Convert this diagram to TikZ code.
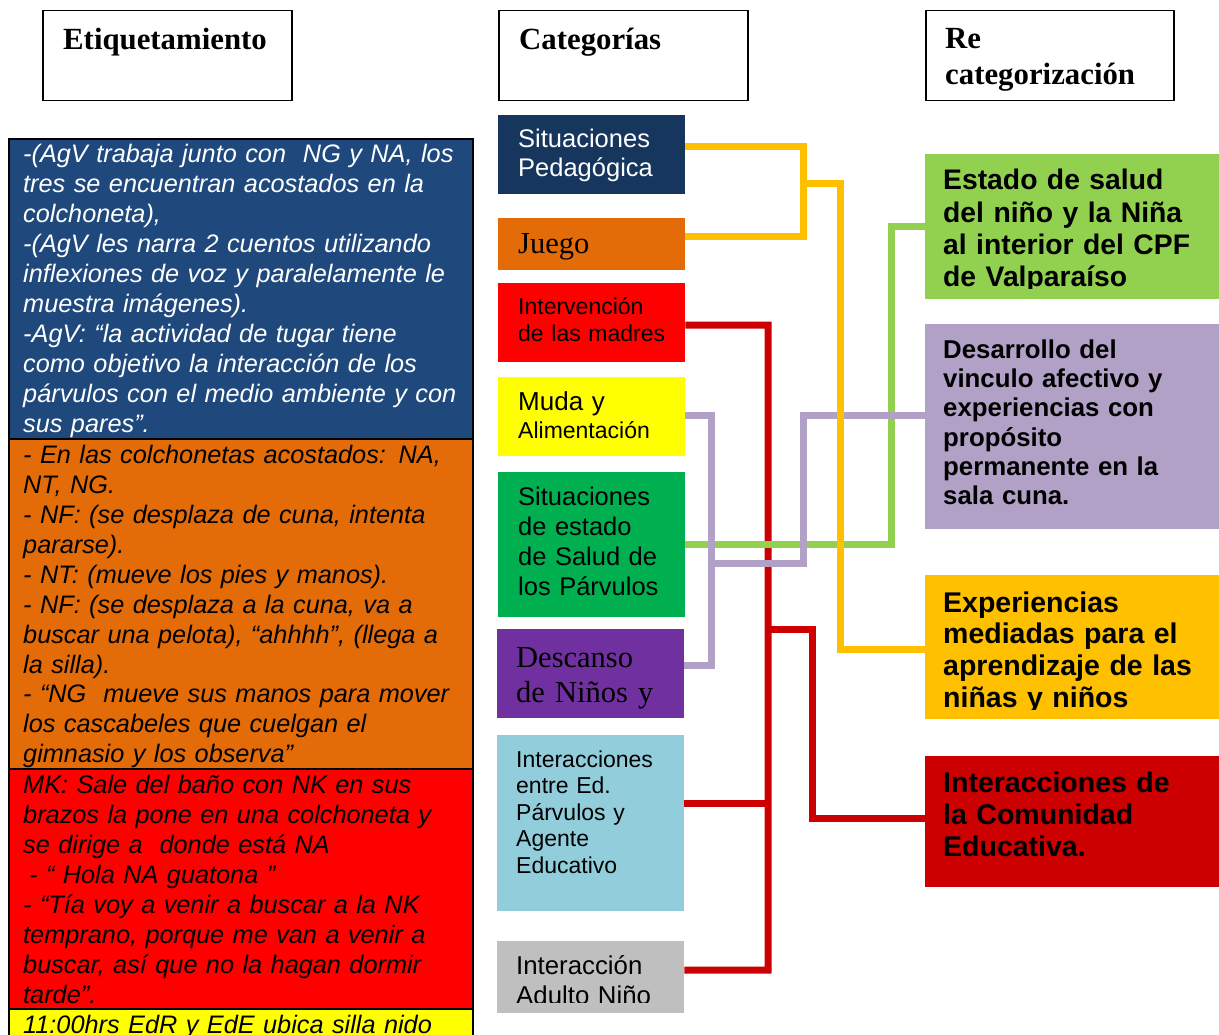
\documentclass[tikz,border=0pt]{standalone}
\usepackage{xcolor}
\usepackage{fontspec}
\setmainfont{Liberation Serif}
\setsansfont{Liberation Sans}
\usepackage{tikz}
\usetikzlibrary{calc}

\definecolor{azulA}{HTML}{1F497D}
\definecolor{azulB}{HTML}{17365D}
\definecolor{naranja}{HTML}{E36C09}
\definecolor{rojo}{HTML}{FF0000}
\definecolor{amarillo}{HTML}{FFFF00}
\definecolor{verdeA}{HTML}{00B050}
\definecolor{morado}{HTML}{7030A0}
\definecolor{celeste}{HTML}{92CDDC}
\definecolor{gris}{HTML}{BFBFBF}
\definecolor{verdeB}{HTML}{92D050}
\definecolor{lila}{HTML}{B2A1C7}
\definecolor{oro}{HTML}{FFC000}
\definecolor{granate}{HTML}{CC0000}

\begin{document}
\begin{tikzpicture}[x=1pt,y=1pt,
	head/.style={draw=black,line width=1.5pt,anchor=north west,minimum width=249pt,minimum height=90pt,inner sep=0pt},
	htxt/.style={anchor=base west,inner sep=0pt,text width=230pt,align=left,font=\rmfamily\bfseries\fontsize{30.8}{36}\selectfont},
	band/.style={draw=black,line width=2pt,anchor=north west,minimum width=464pt,inner sep=0pt},
	ltxt/.style={anchor=base west,inner sep=0pt,text width=460pt,align=left,font=\sffamily\itshape\fontsize{25.3}{30}\selectfont},
	cat/.style={anchor=north west,minimum width=187pt,inner sep=0pt},
	recat/.style={anchor=north west,minimum width=294pt,inner sep=0pt},
	ctxt/.style={anchor=base west,inner sep=0pt,text width=180pt,align=left},
	rtxt/.style={anchor=base west,inner sep=0pt,text width=275pt,align=left},
	conn/.style={line width=\lw}]
		\def\lw{7pt}
		\useasboundingbox (0,0) rectangle (1219,-1035);
		% encabezados
		\node[head] (hEtiq) at (42,-10) {};
		\node[head] (hCat) at (498,-10) {};
		\node[head,minimum width=248pt] (hRecat) at (925,-10) {};
		\node[htxt] (tEtiq) at (63,-50) {Etiquetamiento};
		\node[htxt] (tCat) at (519,-50) {Categorías};
		\node[htxt] (tRecat) at (945,-49) {Re\\categorización};
		% etiquetamiento
		\node[band,fill=azulA,minimum height=300pt] (bandA) at (8,-138) {};
		\node[band,fill=naranja,minimum height=330pt] (bandB) at (8,-438) {};
		\node[band,fill=rojo,minimum height=240pt] (bandC) at (8,-768) {};
		\node[band,fill=amarillo,minimum height=40pt] (bandD) at (8,-1008) {};
		\node[ltxt,text=white] (tA) at (23,-163) {-(AgV trabaja junto con\ \ NG y NA, los\\tres se encuentran acostados en la\\colchoneta),\\-(AgV les narra 2 cuentos utilizando\\inflexiones de voz y paralelamente le\\muestra imágenes).\\-AgV: “la actividad de tugar tiene\\como objetivo la interacción de los\\párvulos con el medio ambiente y con\\sus pares”.};
		\node[ltxt] (tB) at (23,-463) {- En las colchonetas acostados: NA,\\NT, NG.\\- NF: (se desplaza de cuna, intenta\\pararse).\\- NT: (mueve los pies y manos).\\- NF: (se desplaza a la cuna, va a\\buscar una pelota), “ahhhh”, (llega a\\la silla).\\- “NG\ \ mueve sus manos para mover\\los cascabeles que cuelgan el\\gimnasio y los observa”};
		\node[ltxt] (tC) at (23,-793) {MK: Sale del baño con NK en sus\\brazos la pone en una colchoneta y\\se dirige a\ \ donde está NA\\\hspace*{6pt}- “ Hola NA guatona ”\\- “Tía voy a venir a buscar a la NK\\temprano, porque me van a venir a\\buscar, así que no la hagan dormir\\tarde”.};
		\node[ltxt] (tD) at (23,-1033) {11:00hrs EdR y EdE ubica silla nido};
		% categorias
		\node[cat,fill=azulB,minimum height=79pt] (sitped) at (498,-115) {};
		\node[cat,fill=naranja,minimum height=52pt] (juego) at (498,-218) {};
		\node[cat,fill=rojo,minimum height=79pt] (interv) at (498,-283) {};
		\node[cat,fill=amarillo,minimum height=79pt] (muda) at (498,-377) {};
		\node[cat,fill=verdeA,minimum height=145pt] (salud) at (498,-472) {};
		\node[cat,fill=morado,minimum height=89pt] (descanso) at (497,-629) {};
		\node[cat,fill=celeste,minimum height=176pt] (inter) at (497,-735) {};
		\node[cat,fill=gris,minimum height=72pt] (adulto) at (497,-941) {};
		\node[ctxt,text=white,font=\sffamily\fontsize{25.5}{29}\selectfont] (tSitped) at (518,-148) {Situaciones\\Pedagógica};
		\node[ctxt,font=\rmfamily\fontsize{30.5}{35}\selectfont] (tJuego) at (518,-254) {Juego};
		\node[ctxt,font=\sffamily\fontsize{23}{27}\selectfont] (tInterv) at (518,-315) {Intervención\\de las madres};
		\node[ctxt,font=\sffamily\fontsize{26}{28}\selectfont] (tMuda) at (518,-410) {Muda y\\\fontsize{23}{28}\selectfont Alimentación};
		\node[ctxt,font=\sffamily\fontsize{25.5}{30}\selectfont] (tSalud) at (518,-505) {Situaciones\\de estado\\de Salud de\\los Párvulos};
		\node[ctxt,font=\rmfamily\fontsize{30.5}{35}\selectfont] (tDescanso) at (516,-667) {Descanso\\de Niños y};
		\node[ctxt,font=\sffamily\fontsize{23}{26.5}\selectfont] (tInter) at (516,-767) {Interacciones\\entre Ed.\\Párvulos y\\Agente\\Educativo};
		\begin{scope}
			\clip (497,-941) rectangle (684,-1002);
			\node[ctxt,font=\sffamily\fontsize{25.8}{30}\selectfont] (tAdulto) at (516,-974) {Interacción\\Adulto Niño};
		\end{scope}
		% re categorizacion
		\node[recat,fill=verdeB,minimum height=145pt] (estado) at (925,-154) {};
		\node[recat,fill=lila,minimum height=205pt] (desa) at (925,-324) {};
		\node[recat,fill=oro,minimum height=144pt] (expe) at (925,-575) {};
		\node[recat,fill=granate,minimum height=131pt] (comun) at (925,-756) {};
		\begin{scope}
			\clip (925,-154) rectangle (1219,-289);
			\node[rtxt,font=\sffamily\bfseries\fontsize{28.3}{32.3}\selectfont] (tEstado) at (943,-190) {Estado de salud\\del niño y la Niña\\al interior del CPF\\de Valparaíso};
		\end{scope}
		\node[rtxt,font=\sffamily\bfseries\fontsize{25.8}{29.4}\selectfont] (tDesa) at (943,-358) {Desarrollo del\\vinculo afectivo y\\experiencias con\\propósito\\permanente en la\\sala cuna.};
		\begin{scope}
			\clip (925,-575) rectangle (1219,-709);
			\node[rtxt,font=\sffamily\bfseries\fontsize{28.5}{31.7}\selectfont] (tExpe) at (943,-612) {Experiencias\\mediadas para el\\aprendizaje de las\\niñas y niños};
		\end{scope}
		\node[rtxt,font=\sffamily\bfseries\fontsize{28.5}{32}\selectfont] (tComun) at (943,-792) {Interacciones de\\la Comunidad\\Educativa.};
		% conectores
		\coordinate (rA) at (768,-629);
		\coordinate (rB) at (768,-970);
		\coordinate (lA) at (711,-563);
		\coordinate (yA) at (803,-184);
		\draw[conn,granate] ([yshift=-2.5pt]interv.east) -| (rB) -- ([yshift=7pt]adulto.east);
		\draw[conn,granate] ([yshift=20pt]inter.east) -- ([yshift=20pt]inter.east -| rB);
		\draw[conn,granate] (rA) -- ++(44,0) |- ([yshift=3.5pt]comun.west);
		\draw[conn,verdeB] (salud.east) -- ++(206,0) |- (estado.west);
		\draw[conn,lila] ([yshift=1.5pt]muda.east) -| (lA) |- ([yshift=8.5pt]descanso.east);
		\draw[conn,lila] (lA) -- ++(92,0) |- ([yshift=11.5pt]desa.west);
		\draw[conn,oro] ([yshift=8.5pt]sitped.east) -| (yA) |- ([yshift=8pt]juego.east);
		\draw[conn,oro] (yA) -- ++(37,0) |- ([yshift=-2pt]expe.west);
	\end{tikzpicture}
\end{document}
